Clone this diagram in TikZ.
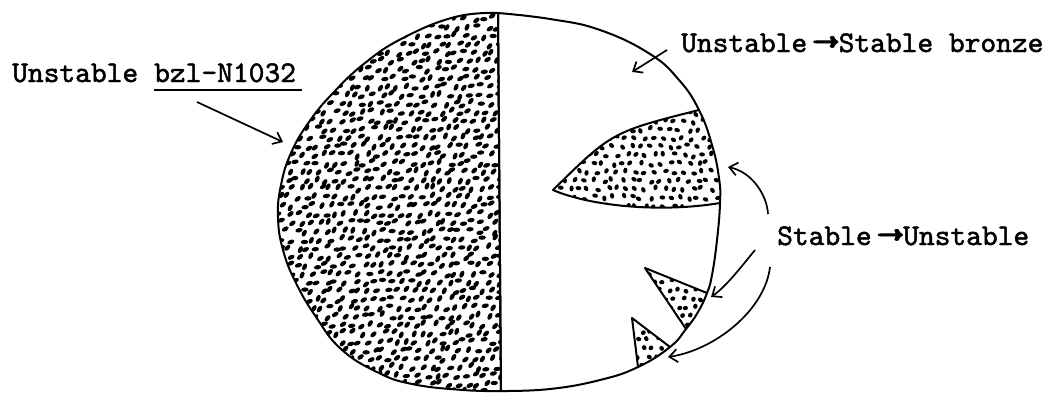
\documentclass[tikz,border=0pt]{standalone}
\usepackage{graphicx}
\usepackage{fontspec}
\newfontfamily\typew{lmmono10-regular.otf}[FakeBold=1.6]
\usetikzlibrary{arrows.meta}
\newcommand\LeftShape{plot[smooth, tension=0.75] coordinates {(498,13) (455,17) (403,38) (365,63) (333,93) (309,122) (291,153) (281,185) (278,217) (283,250) (296,283) (316,317) (341,349) (377,372) (412,384) (463,390) (501,391)} -- cycle}
\newcommand\RightShape{plot[smooth, tension=0.75] coordinates {(498,13) (550,19) (600,30) (650,54) (679,80) (699,110) (712,145) (719,178) (720,203) (717,240) (712,275) (707,293) (698,312) (686,329) (670,347) (638,367) (600,380) (550,389) (501,391)} -- cycle}
\newcommand\BigWedge{(553,190) .. controls (612,132) .. (699,110) -- (745,105) -- (745,210) -- (720,203) .. controls (660,213) and (590,206) .. (553,190) -- cycle}
\newcommand\WedgeA{(645,268) -- (725.6,300.5) -- (698.3,347.3) -- cycle}
\newcommand\WedgeB{(632,318) -- (681.4,355.7) -- (639.8,381.7) -- cycle}
\newcommand\tarrow{\makebox[1.05em][r]{\scalebox{1.75}[1.1]{→}\kern-1pt}}
\begin{document}
\begin{tikzpicture}[x=1pt,y=-1pt,
  outline/.style={line width=2pt, line join=round, line cap=round},
  pointer/.style={line width=1.7pt, -{Straight Barb[length=8pt,width=13pt]}},
  lbl/.style={inner sep=0pt, anchor=base west, font=\fontsize{30}{36}\selectfont\typew},
  grain/.style={fill=black},
  ]
\useasboundingbox (0,0) rectangle (1054,392);
\fill[white] (0,0) rectangle (1054,392);
\pgfmathsetseed{4711}
% dots of the left half
\begin{scope}
  \clip \LeftShape;
  \foreach \gy [count=\r] in {10,18.5,...,396} {
    \foreach \gx in {274,283.5,...,506} {
      \pgfmathsetmacro\px{\gx+mod(\r,2)*4.7+3*rand}
      \pgfmathsetmacro\py{\gy+2.5*rand}
      \pgfmathsetmacro\ang{35+35*rand}
      \fill[grain, rotate around={\ang:(\px,\py)}] (\px,\py) ellipse [x radius=3.7, y radius=2.2];
    }
  }
\end{scope}
% dots of the big wedge
\begin{scope}
  \clip \RightShape;
  \clip \BigWedge;
  \foreach \gy [count=\r] in {104,112.5,...,216} {
    \foreach \gx in {546,555.5,...,728} {
      \pgfmathsetmacro\px{\gx+mod(\r,2)*4.5+2.5*rand}
      \pgfmathsetmacro\py{\gy+2*rand}
      \pgfmathsetmacro\ang{90*rand}
      \fill[grain, rotate around={\ang:(\px,\py)}] (\px,\py) ellipse [x radius=2.9, y radius=2.1];
    }
  }
\end{scope}
% dots of the small wedges
\begin{scope}
  \clip \RightShape;
  \clip \WedgeA;
  \foreach \gy [count=\r] in {264,272.5,...,340} {
    \foreach \gx in {640,649.5,...,722} {
      \pgfmathsetmacro\px{\gx+mod(\r,2)*4.5+2.5*rand}
      \pgfmathsetmacro\py{\gy+2*rand}
      \pgfmathsetmacro\ang{90*rand}
      \fill[grain, rotate around={\ang:(\px,\py)}] (\px,\py) ellipse [x radius=2.6, y radius=2.2];
    }
  }
\end{scope}
\begin{scope}
  \clip \RightShape;
  \clip \WedgeB;
  \foreach \gy [count=\r] in {314,322.5,...,378} {
    \foreach \gx in {628,637.5,...,680} {
      \pgfmathsetmacro\px{\gx+mod(\r,2)*4.5+2.5*rand}
      \pgfmathsetmacro\py{\gy+2*rand}
      \pgfmathsetmacro\ang{90*rand}
      \fill[grain, rotate around={\ang:(\px,\py)}] (\px,\py) ellipse [x radius=2.6, y radius=2.2];
    }
  }
\end{scope}
% outlines
\draw[outline] \LeftShape;
\draw[outline] \RightShape;
\draw[outline] (553,190) .. controls (612,132) .. (699,110);
\draw[outline] (553,190) .. controls (590,206) and (660,213) .. (720,203);
\draw[outline] (707,293) -- (645,268) -- (686,329);
\draw[outline] (670,347) -- (632,318) -- (638,367);
% labels
\node[lbl] (u1) at (12,82) {Unstable};
\node[lbl] (u2) at (154,82) {bzl-N1032};
\draw[line width=2pt] ([yshift=-8pt]u2.base west) -- ([xshift=6pt,yshift=-8pt]u2.base east);
\node[lbl] (t2) at (681,52) {Unstable\tarrow Stable bronze};
\node[lbl] (t3) at (777,245) {Stable\tarrow Unstable};
% pointers
\coordinate (p1s) at (197,102); \coordinate (p1e) at (283,142);
\coordinate (p2s) at (667,50);  \coordinate (p2e) at (632,72);
\coordinate (p3s) at (768,214); \coordinate (p3e) at (728,167);
\coordinate (p4s) at (755,250); \coordinate (p4e) at (711,297);
\coordinate (p5s) at (770,267); \coordinate (p5e) at (668,357);
\draw[pointer] (p1s) -- (p1e);
\draw[pointer] (p2s) -- (p2e);
\draw[pointer] (p3s) .. controls (767,195) and (752,172) .. (p3e);
\draw[pointer] (p4s) .. controls (745,262) and (727,286) .. (p4e);
\draw[pointer] (p5s) .. controls (765,310) and (715,350) .. (p5e);
\end{tikzpicture}
\end{document}
